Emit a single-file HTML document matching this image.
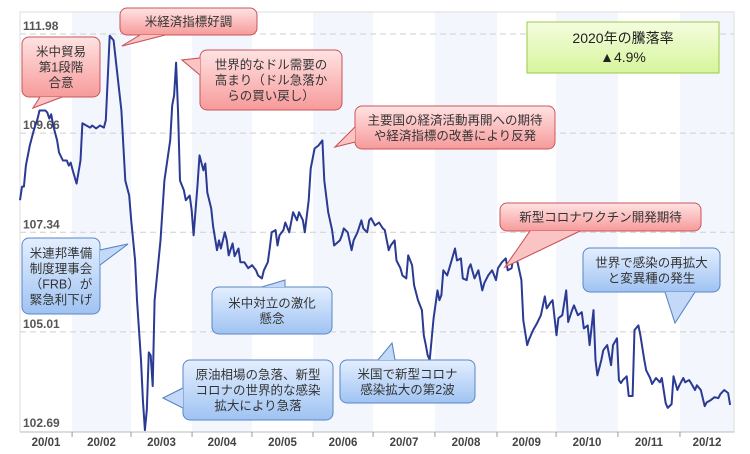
<!DOCTYPE html>
<html><head><meta charset="utf-8"><style>
body{margin:0;background:#fff;}
svg{display:block;font-family:"Liberation Sans","Noto Sans CJK JP",sans-serif;}
</style></head><body>
<svg id="chart" width="750" height="454" viewBox="0 0 750 454" xmlns="http://www.w3.org/2000/svg">
<defs>
<linearGradient id="gRed" x1="0" y1="0" x2="0" y2="1"><stop offset="0" stop-color="#ffe3e3"/><stop offset="1" stop-color="#f79a9a"/></linearGradient>
<linearGradient id="gBlue" x1="0" y1="0" x2="0" y2="1"><stop offset="0" stop-color="#e4efff"/><stop offset="1" stop-color="#9fc3f2"/></linearGradient>
<linearGradient id="gGreen" x1="0" y1="0" x2="0" y2="1"><stop offset="0" stop-color="#f5fde0"/><stop offset="1" stop-color="#d6f59a"/></linearGradient>
</defs>
<g id="bands"></g>
<g id="grid"></g>
<rect x="20" y="12" width="714" height="420" fill="none" stroke="#dcdcdc"/>
<g id="ylabels"></g>
<g id="xaxis"></g>
<path id="line" fill="none" stroke="#2b3a92" stroke-width="2" stroke-linejoin="round"/>
<g id="callouts"></g>
</svg>
<script>
const monthLabels=["20/01","20/02","20/03","20/04","20/05","20/06","20/07","20/08","20/09","20/10","20/11","20/12"];
const monthStartDays=[0,26.7,56.9,88.2,118.9,150.2,181,212.7,244.5,274.8,306.5,338.3,366];
const yTicks=[102.69,105.01,107.34,109.66,111.98];
const days=[0,1,2,3,5,7,9,10,13,14,15,16,17,19,20,22,24,25,26,27,29,31,32,34,36,37,39,41,43,44,46,48,50,52,54,56,57,59,60,62,63,64,65,66,67,68,69,70,72,74,77,78,79,80,81,82,84,85,87,88,89,91,92,94,95,96,98,99,101,102,103,105,106,107,109,110,112,113,115,117,119,121,122,124,125,127,128,129,131,132,133,135,136,138,140,142,143,145,146,148,149,151,153,155,156,158,160,161,164,165,166,168,170,171,173,175,176,178,179,180,182,184,186,187,189,190,192,193,195,196,198,199,201,202,204,206,207,208,209,210,212,214,215,216,217,219,221,223,224,226,227,229,230,231,233,235,237,238,240,242,244,245,247,249,250,252,253,255,257,258,260,261,263,265,267,269,270,272,273,275,276,278,280,281,283,284,286,288,289,291,292,294,295,296,298,299,301,303,304,306,307,308,309,311,312,314,315,317,318,320,321,323,324,326,328,329,331,332,334,335,337,338,340,341,343,344,346,347,349,351,352,354,356,358,359,361,363,364];
const prices=[108.09,108.41,108.41,108.90,109.37,109.72,110.00,110.19,110.19,110.14,110.00,110.10,109.84,109.49,109.21,109.02,109.02,108.90,108.97,108.79,108.48,109.02,109.89,109.84,109.79,109.84,109.77,109.84,109.79,109.96,111.94,111.83,111.01,110.19,108.55,108.20,107.62,106.68,105.75,104.35,103.41,102.71,103.18,104.53,104.46,103.74,105.75,106.22,107.15,108.55,109.49,110.31,110.54,111.31,110.19,108.55,108.32,108.09,108.20,107.85,107.27,108.44,109.14,108.79,108.95,108.27,107.90,107.48,106.92,107.15,106.96,107.34,107.15,106.80,107.08,106.78,106.96,106.64,106.64,106.50,106.57,106.45,106.33,106.26,106.45,106.64,106.96,107.34,107.39,107.03,107.27,107.39,107.57,107.34,107.81,107.62,107.81,107.62,107.34,108.09,108.83,109.30,109.37,109.49,108.55,107.81,107.39,107.03,107.15,107.27,107.43,107.34,106.92,107.15,107.34,107.62,107.43,107.34,107.62,107.67,107.50,107.57,107.43,107.39,106.92,107.03,107.15,106.68,106.50,106.33,106.26,106.80,106.57,106.10,105.75,105.52,104.93,104.70,104.46,104.35,105.33,105.98,105.75,105.87,106.45,106.33,106.64,106.96,106.68,106.73,106.26,106.22,106.50,106.59,106.26,106.45,105.98,106.15,106.33,106.45,106.22,106.50,106.64,106.73,106.45,106.50,106.80,106.64,106.22,105.28,104.70,104.84,105.05,105.21,105.40,105.84,105.56,105.70,105.75,104.93,105.33,105.40,105.98,105.24,105.52,105.63,105.40,105.47,105.09,105.16,104.70,105.52,104.35,103.99,104.35,104.58,104.70,104.23,104.70,104.86,103.88,103.81,103.88,103.97,103.51,103.51,105.05,105.16,104.93,104.35,104.11,103.93,103.79,103.93,103.83,103.93,103.34,103.23,103.32,103.97,103.65,103.76,103.93,103.83,103.88,103.81,103.65,103.76,103.65,103.27,103.36,103.41,103.48,103.46,103.55,103.65,103.58,103.30];

const NS="http://www.w3.org/2000/svg";
const X0=20,X1=734,Y0=431,YT=34;
const xScale=d=>X0+(X1-X0)*d/366;
const yScale=v=>Y0-(v-102.69)*(Y0-YT)/(111.98-102.69);
function mk(tag,attrs,parent){const e=document.createElementNS(NS,tag);for(const k in attrs)e.setAttribute(k,attrs[k]);parent.appendChild(e);return e;}

const bands=document.getElementById('bands');
for(let i=0;i<12;i++){
  if(i%2===1){
    const r=mk('rect',{x:xScale(monthStartDays[i]),y:12,width:xScale(monthStartDays[i+1])-xScale(monthStartDays[i]),height:420,fill:'#f3f7fd'},bands);
    
    
  }
}
const grid=document.getElementById('grid'),yl=document.getElementById('ylabels');
yTicks.forEach(v=>{
  if(v>102.7){const l=mk('line',{x1:X0,x2:X1,y1:yScale(v),y2:yScale(v),stroke:'#cfcfcf','stroke-dasharray':'6,4'},grid);
  
  }
  const t=mk('text',{x:23,y:yScale(v)-4,'font-size':'12','font-weight':'bold',fill:'#555'},yl);
  t.textContent=v.toFixed(2);
  
  
});
const xa=document.getElementById('xaxis');
mk('line',{x1:X0,x2:X1,y1:432,y2:432,stroke:'#bbb'},xa);
monthLabels.forEach((m,i)=>{
  const a=xScale(monthStartDays[i]),b=xScale(monthStartDays[i+1]);
  if(i>0){const tk=mk('line',{x1:a,x2:a,y1:432,y2:437,stroke:'#999'},xa);
  
  }
  const t=mk('text',{x:(a+b)/2,y:446,'font-size':'11.5','font-weight':'bold',fill:'#444','text-anchor':'middle'},xa);
  t.textContent=m;
  
  
});
document.getElementById('line').setAttribute('d',days.map((d,i)=>(i?'L':'M')+xScale(d).toFixed(1)+','+yScale(prices[i]).toFixed(1)).join(''));

const callouts=[
 {name:'callout-trade-deal',c:'r',x:22,y:37,w:78,h:60,tail:[[40,97],[33,108],[62,97]],lines:['米中貿易','第1段階','合意']},
 {name:'callout-us-economy',c:'r',x:120,y:8,w:137,h:27,tail:[[140,35],[122,46],[165,35]],lines:['米経済指標好調']},
 {name:'callout-dollar-demand',c:'r',x:200,y:50,w:142,h:60,tail:[[200,58],[182,60],[200,75]],lines:['世界的なドル需要の','高まり（ドル急落か','らの買い戻し）']},
 {name:'callout-reopening',c:'r',x:355,y:106,w:200,h:43,tail:[[355,127],[335,147],[355,142]],lines:['主要国の経済活動再開への期待','や経済指標の改善により反発']},
 {name:'callout-vaccine',c:'r',x:500,y:203,w:201,h:28,tail:[[530,231],[505,267],[580,231]],lines:['新型コロナワクチン開発期待']},
 {name:'callout-fed-cut',c:'b',x:22,y:238,w:78,h:76,tail:[[100,250],[128,244],[100,265]],lines:['米連邦準備','制度理事会','（FRB）が','緊急利下げ']},
 {name:'callout-us-china',c:'b',x:212,y:287,w:120,h:47,tail:[[262,287],[285,280],[285,287]],lines:['米中対立の激化','懸念']},
 {name:'callout-oil-crash',c:'b',x:183,y:360,w:150,h:60,tail:[[183,388],[163,398],[183,408]],lines:['原油相場の急落、新型','コロナの世界的な感染','拡大により急落']},
 {name:'callout-second-wave',c:'b',x:340,y:360,w:135,h:43,tail:[[378,360],[392,343],[395,360]],lines:['米国で新型コロナ','感染拡大の第2波']},
 {name:'callout-resurgence',c:'b',x:583,y:248,w:137,h:44,tail:[[665,292],[675,323],[695,292]],lines:['世界で感染の再拡大','と変異種の発生']}
];
const cg=document.getElementById('callouts');
callouts.forEach(o=>{
  const g=mk('g',{},cg);
  
  
  const stroke=o.c==='r'?'#c9555a':'#5a86c4',fill=o.c==='r'?'url(#gRed)':'url(#gBlue)';
  mk('path',{d:'M'+o.tail.map(p=>p.join(',')).join('L')+'Z',fill:o.c==='r'?'#fbb9b9':'#bcd5f6',stroke:stroke},g);
  mk('rect',{x:o.x,y:o.y,width:o.w,height:o.h,rx:7,fill:fill,stroke:stroke},g);
  mk('path',{d:'M'+o.tail.map(p=>p.join(',')).join('L'),fill:o.c==='r'?'#fbc4c4':'#c3d9f7',stroke:stroke},g);
  const lh=15.5,start=o.y+o.h/2-(o.lines.length-1)*lh/2+4.5;
  o.lines.forEach((s,i)=>{const t=mk('text',{x:o.x+o.w/2,y:start+i*lh,'font-size':'12.5',fill:'#333','text-anchor':'middle'},g);t.textContent=s;});
});
const gb=mk('g',{},cg);


mk('rect',{x:527,y:22,width:192,height:51,fill:'url(#gGreen)',stroke:'#9bc94a'},gb);
const t1=mk('text',{x:623,y:43,'font-size':'14',fill:'#222','text-anchor':'middle'},gb);t1.textContent='2020年の騰落率';
const t2=mk('text',{x:623,y:62,'font-size':'14',fill:'#222','text-anchor':'middle'},gb);t2.textContent='▲4.9%';
</script>
</body></html>
